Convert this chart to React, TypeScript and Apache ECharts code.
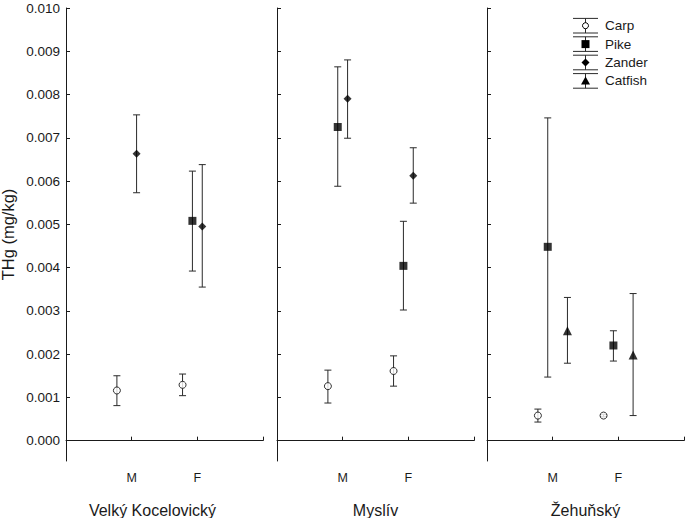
import React, { useEffect, useRef } from "react";
import * as echarts from "echarts";

const lakes = ["Velký Kocelovický", "Myslív", "Žehuňský"];
const categories = ["M", "F"];
const species = ["Carp", "Pike", "Zander", "Catfish"];
const yTicks = [0, 0.001, 0.002, 0.003, 0.004, 0.005, 0.006, 0.007, 0.008, 0.009, 0.01];

// [lake][sex]
const carpMean = [[0.00116, 0.00129], [0.00126, 0.00161], [0.00058, 0.00058]];
const carpLow = [[0.00081, 0.00104], [0.00087, 0.00126], [0.00043, 0.00055]];
const carpHigh = [[0.0015, 0.00154], [0.00163, 0.00196], [0.00073, 0.00061]];

const pikeMean = [[null, 0.00508], [0.00725, 0.00404], [0.00448, 0.0022]];
const pikeLow = [[null, 0.00392], [0.00588, 0.00302], [0.00147, 0.00184]];
const pikeHigh = [[null, 0.00623], [0.00864, 0.00507], [0.00746, 0.00254]];

const zanderMean = [[0.00663, 0.00495], [0.0079, 0.00612], [null, null]];
const zanderLow = [[0.00573, 0.00355], [0.00699, 0.00549], [null, null]];
const zanderHigh = [[0.00753, 0.00638], [0.0088, 0.00677], [null, null]];

const catfishMean = [[null, null], [null, null], [0.00254, 0.00198]];
const catfishLow = [[null, null], [null, null], [0.00179, 0.00058]];
const catfishHigh = [[null, null], [null, null], [0.00331, 0.0034]];

const means = [carpMean, pikeMean, zanderMean, catfishMean];
const lows = [carpLow, pikeLow, zanderLow, catfishLow];
const highs = [carpHigh, pikeHigh, zanderHigh, catfishHigh];

const offsets = [-0.225, -0.075, 0.075, 0.225];
const symbols = ["circle", "rect", "diamond", "triangle"];
const symbolSizes = [7, 8, 8, 9];

const FONT = "'Liberation Sans', Arial, sans-serif";
const INK = "#1a1a1a";

const gridLefts = [66, 277, 487];

export default function App() {
  const ref = useRef<HTMLDivElement>(null);
  useEffect(() => {
    document.body.style.margin = "0";
    const chart = echarts.init(ref.current!, null, { renderer: "svg" });

    const grid = gridLefts.map((l) => ({
      left: l,
      top: 8,
      width: 197,
      height: 453,
      containLabel: false,
      outerBoundsMode: "none",
    }));

    const xAxis = lakes.map((lake, i) => ({
      type: "value",
      gridIndex: i,
      min: 0,
      max: 3,
      name: lake,
      nameLocation: "middle",
      nameGap: 41,
      nameTextStyle: {
        fontFamily: FONT,
        fontSize: 16,
        color: INK,
        padding: i === 0 ? [0, 24, 0, 0] : 0,
      },
      axisLine: { show: true, lineStyle: { color: INK, width: 1 } },
      axisTick: { show: true, inside: true, length: 4, customValues: [0, 1, 2, 3], lineStyle: { color: INK } },
      axisLabel: {
        show: true,
        customValues: [1, 2],
        margin: 10,
        fontFamily: FONT,
        fontSize: 12.5,
        color: INK,
        formatter: (v: number) => categories[Math.round(v) - 1] ?? "",
      },
      splitLine: { show: false },
    }));

    const yAxis = lakes.map((_, i) => ({
      type: "value",
      gridIndex: i,
      min: -0.00047,
      max: 0.01,
      name: i === 0 ? "THg (mg/kg)" : "",
      nameLocation: "middle",
      nameGap: 50,
      nameTextStyle: { fontFamily: FONT, fontSize: 16.5, color: INK },
      axisLine: { show: true, lineStyle: { color: INK, width: 1 } },
      axisTick: { show: true, inside: true, length: 4, customValues: yTicks, lineStyle: { color: INK } },
      axisLabel: {
        show: i === 0,
        customValues: yTicks,
        margin: 6,
        fontFamily: FONT,
        fontSize: 13.5,
        color: INK,
        formatter: (v: number) => v.toFixed(3),
      },
      splitLine: { show: false },
    }));

    const series: any[] = [];
    lakes.forEach((_, li) => {
      species.forEach((sp, si) => {
        const pts: number[][] = [];
        const bars: number[][] = [];
        categories.forEach((_, ci) => {
          const m = means[si][li][ci];
          if (m === null || m === undefined) return;
          const x = ci + 1 + offsets[si];
          pts.push([x, m]);
          bars.push([x, lows[si][li][ci] as number, highs[si][li][ci] as number]);
        });
        if (!pts.length) return;
        series.push({
          type: "custom",
          name: sp + " error",
          xAxisIndex: li,
          yAxisIndex: li,
          data: bars,
          encode: { x: 0, y: [1, 2] },
          z: 2,
          renderItem: (params: any, api: any) => {
            const x = api.value(0);
            const lo = api.coord([x, api.value(1)]);
            const hi = api.coord([x, api.value(2)]);
            const h = 3.5;
            const style = { stroke: "#2a2a2a", lineWidth: 1 };
            return {
              type: "group",
              children: [
                { type: "line", shape: { x1: lo[0], y1: lo[1], x2: hi[0], y2: hi[1] }, style },
                { type: "line", shape: { x1: hi[0] - h, y1: hi[1], x2: hi[0] + h, y2: hi[1] }, style },
                { type: "line", shape: { x1: lo[0] - h, y1: lo[1], x2: lo[0] + h, y2: lo[1] }, style },
              ],
            };
          },
        });
        series.push({
          type: "scatter",
          name: sp,
          xAxisIndex: li,
          yAxisIndex: li,
          data: pts,
          symbol: symbols[si],
          symbolSize: symbolSizes[si],
          z: 3,
          itemStyle:
            si === 0
              ? { color: "#ffffff", borderColor: "#000", borderWidth: 1 }
              : { color: "#000", borderWidth: 0 },
        });
      });
    });

    // legend drawn with graphic elements
    const legendX = 573;
    const legendW = 25;
    const pitch = 18.4;
    const firstCenter = 25.7;
    const half = 7.3;
    const lg: any[] = [];
    species.forEach((sp, si) => {
      const cy = firstCenter + si * pitch;
      const top = cy - half;
      const bot = cy + half;
      const cx = legendX + legendW / 2;
      const ls = { stroke: "#2a2a2a", lineWidth: 1 };
      lg.push({ type: "line", shape: { x1: legendX, y1: top, x2: legendX + legendW, y2: top }, style: ls });
      lg.push({ type: "line", shape: { x1: legendX, y1: bot, x2: legendX + legendW, y2: bot }, style: ls });
      lg.push({ type: "line", shape: { x1: cx, y1: top, x2: cx, y2: bot }, style: ls });
      if (si === 0) {
        lg.push({ type: "circle", shape: { cx, cy, r: 3 }, style: { fill: "#fff", stroke: "#000", lineWidth: 1 } });
      } else if (si === 1) {
        lg.push({ type: "rect", shape: { x: cx - 4, y: cy - 4, width: 8, height: 8 }, style: { fill: "#000" } });
      } else if (si === 2) {
        lg.push({ type: "polygon", shape: { points: [[cx, cy - 4], [cx + 4, cy], [cx, cy + 4], [cx - 4, cy]] }, style: { fill: "#000" } });
      } else {
        lg.push({ type: "polygon", shape: { points: [[cx, cy - 4.5], [cx + 4.5, cy + 3.5], [cx - 4.5, cy + 3.5]] }, style: { fill: "#000" } });
      }
      lg.push({
        type: "text",
        x: 605,
        y: cy,
        style: { text: sp, fontFamily: FONT, fontSize: 13.5, fill: INK, verticalAlign: "middle", align: "left" },
      });
    });

    chart.setOption({
      animation: false,
      backgroundColor: "#ffffff",
      grid,
      xAxis,
      yAxis,
      series,
      graphic: lg,
    });
    return () => chart.dispose();
  }, []);
  return <div ref={ref} style={{ width: 685, height: 518 }} />;
}
